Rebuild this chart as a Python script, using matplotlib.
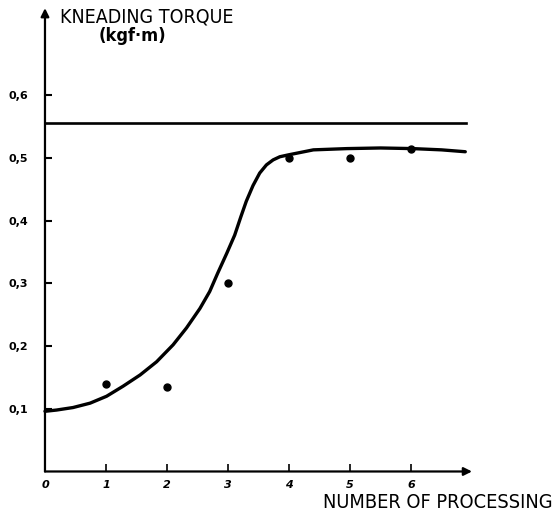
import numpy as np
import matplotlib.pyplot as plt

# measured points (number of passes vs. torque)
passes = [1, 2, 3, 4, 5, 6]
torque = [0.14, 0.135, 0.30, 0.50, 0.50, 0.515]

# hand-drawn fit curve
curve_x = [0.0, 0.19, 0.46, 0.74, 1.01, 1.28, 1.56, 1.83, 2.10, 2.32, 2.54, 2.70,
           2.83, 2.98, 3.11, 3.21, 3.30, 3.41, 3.52, 3.63, 3.74, 3.85, 3.99,
           4.40, 4.95, 5.50, 6.03, 6.50, 6.89]
curve_y = [0.096, 0.098, 0.102, 0.109, 0.120, 0.136, 0.154, 0.175, 0.202, 0.229,
           0.260, 0.287, 0.316, 0.348, 0.377, 0.406, 0.431, 0.456, 0.476, 0.489,
           0.497, 0.502, 0.505, 0.513, 0.515, 0.516, 0.515, 0.513, 0.510]

limit_level = 0.556
limit_end = 6.91

yticks = [0.1, 0.2, 0.3, 0.4, 0.5, 0.6]
ytick_labels = ['0,1', '0,2', '0,3', '0,4', '0,5', '0,6']
xticks = [0, 1, 2, 3, 4, 5, 6]
xtick_labels = ['0', '1', '2', '3', '4', '5', '6']

fig = plt.figure(figsize=(5.56, 5.2), dpi=100)
ax = fig.add_axes([0.0809, 0.0933, 0.768, 0.891])
ax.set_xlim(0, 7.0)
ax.set_ylim(0, 0.739)
for s in ax.spines.values():
    s.set_visible(False)

# axes with arrow heads
arrow = dict(arrowstyle='-|>', lw=1.6, color='black', mutation_scale=12, shrinkA=0, shrinkB=0)
ax.annotate('', xy=(7.0, 0), xytext=(0, 0), arrowprops=arrow, annotation_clip=False)
ax.annotate('', xy=(0, 0.739), xytext=(0, 0), arrowprops=arrow, annotation_clip=False)

ax.plot([0, limit_end], [limit_level, limit_level], color='black', lw=1.9, clip_on=False)
ax.plot(curve_x, curve_y, color='black', lw=2.4, solid_capstyle='round',
        solid_joinstyle='round', clip_on=False)
ax.plot(passes, torque, 'o', color='black', ms=5, clip_on=False)

ax.set_yticks(yticks)
ax.set_yticklabels(ytick_labels, fontsize=8, fontweight='bold')
ax.set_xticks(xticks)
ax.set_xticklabels(xtick_labels, fontsize=8, fontweight='bold', fontstyle='italic')
ax.tick_params(axis='y', direction='in', length=5, width=1.5, pad=12)
ax.tick_params(axis='x', direction='in', length=5, width=1.2, pad=6)

fig.text(60 / 556, 1 - 17 / 520, 'KNEADING TORQUE', fontsize=14, fontstretch='condensed',
         ha='left', va='center')
fig.text(132 / 556, 1 - 36 / 520, '(kgf\u00b7m)', fontsize=13, fontstretch='condensed',
         fontweight='bold', ha='center', va='center')
fig.text(553 / 556, 1 - 503 / 520, 'NUMBER OF PROCESSING', fontsize=14.3, fontstretch='condensed',
         ha='right', va='center')

fig.savefig('out.png', dpi=100)
